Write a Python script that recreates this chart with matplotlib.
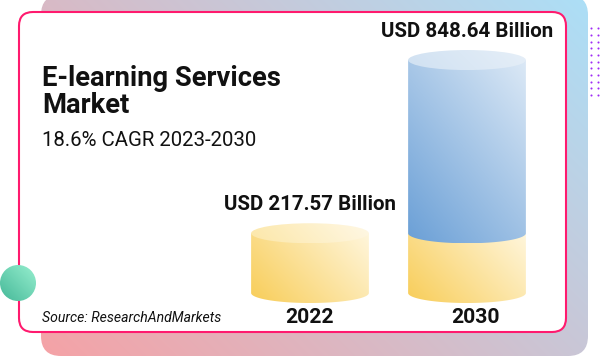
import numpy as np
import matplotlib.pyplot as plt
from matplotlib.patches import FancyBboxPatch, Ellipse, PathPatch, Circle
from matplotlib.path import Path
from matplotlib.colors import to_rgb

plt.rcParams['font.family'] = ['Roboto', 'DejaVu Sans']

# chart data
years = ['2022', '2030']
market_size = [217.57, 848.64]  # USD billion
value_labels = ['USD 217.57 Billion', 'USD 848.64 Billion']
title_lines = ['E-learning Services', 'Market']
subtitle = '18.6% CAGR 2023-2030'
source = 'Source: ResearchAndMarkets'


def gradient(ax, patch, extent, c0, c1, wx=0.5, n=200):
    """fill a patch with a linear gradient, c0 bottom-left -> c1 top-right"""
    u = np.linspace(0, 1, n)
    U, V = np.meshgrid(u, u)
    t = wx * U + (1 - wx) * V
    c0, c1 = np.array(to_rgb(c0)), np.array(to_rgb(c1))
    img = c0 + t[..., None] * (c1 - c0)
    im = ax.imshow(img, extent=extent, origin='lower', aspect='auto',
                   interpolation='bilinear', zorder=patch.get_zorder())
    im.set_clip_path(patch)
    return im


def body_path(xc, y0, y1, w, eh):
    th = np.linspace(np.pi, 2 * np.pi, 80)
    arc = np.column_stack([xc + w / 2 * np.cos(th), y0 + eh / 2 * np.sin(th)])
    verts = np.vstack([[xc - w / 2, y1], arc, [xc + w / 2, y1], [xc - w / 2, y1]])
    codes = [Path.MOVETO] + [Path.LINETO] * (len(verts) - 2) + [Path.CLOSEPOLY]
    return Path(verts, codes)


def cylinder_body(ax, xc, y0, y1, w, eh, c0, c1, z, wx=0.65):
    p = PathPatch(body_path(xc, y0, y1, w, eh), facecolor='none', edgecolor='none', zorder=z)
    ax.add_patch(p)
    gradient(ax, p, (xc - w / 2, xc + w / 2, y0 - eh / 2, y1), c0, c1, wx=wx)


def cylinder_top(ax, xc, y, w, eh, c0, c1, z):
    e = Ellipse((xc, y), w, eh, facecolor='none', edgecolor='none', zorder=z)
    ax.add_patch(e)
    gradient(ax, e, (xc - w / 2, xc + w / 2, y - eh / 2, y + eh / 2), c0, c1, wx=0.85)


fig = plt.figure(figsize=(6, 3.57), dpi=100)

# decoration layer in pixel coords
bg = fig.add_axes([0, 0, 1, 1])
bg.axis('off')

back = FancyBboxPatch((41, -5), 547, 361, boxstyle='round,pad=0,rounding_size=20',
                      facecolor='none', edgecolor='none', zorder=1)
bg.add_patch(back)
gradient(bg, back, (41, 588, 356, -5), '#f5a2a6', '#acdff7', wx=0.6)

card = FancyBboxPatch((19, 12), 547, 320, boxstyle='round,pad=0,rounding_size=14',
                      facecolor='white', edgecolor='#ff1a6e', linewidth=1.5, zorder=2)
bg.add_patch(card)

dot = Circle((18, 283), 18, facecolor='none', edgecolor='none', zorder=3)
bg.add_patch(dot)
gradient(bg, dot, (0, 36, 301, 265), '#45b898', '#97efcf', wx=0.5)

gx, gy = np.meshgrid([591, 597.7, 604.4], 28.3 + 6.67 * np.arange(11))
bg.scatter(gx.ravel(), gy.ravel(), s=2.2, color='#9d2cf5', linewidths=0, zorder=3)

bg.text(42, 86, title_lines[0], fontsize=19.7, fontweight='bold', color='#111111',
        va='baseline', zorder=4)
bg.text(42, 113, title_lines[1], fontsize=19.7, fontweight='bold', color='#111111',
        va='baseline', zorder=4)
bg.text(42, 146.5, subtitle, fontsize=14.7, color='#111111', va='baseline', zorder=4)
bg.text(42, 321.5, source, fontsize=10.1, style='italic', color='#111111',
        va='baseline', zorder=4)

bg.set_xlim(0, 600)
bg.set_ylim(357, 0)

# bar layer
ax = fig.add_axes([231.5 / 600, 0, 314 / 600, 1])
ax.axis('off')
w = 0.75
eh = 73
year_dx = [0, 9]

for i, (yr, v) in enumerate(zip(years, market_size)):
    if i == 0:
        cylinder_body(ax, i, 0, v, w, eh, '#f8cd58', '#fff6dc', 2)
        cylinder_top(ax, i, v, w, eh, '#fce7a8', '#fff8e6', 3)
    else:
        base = market_size[0]
        cylinder_body(ax, i, 0, base, w, eh, '#f8cd58', '#fff6dc', 2)
        cylinder_body(ax, i, base, v, w, eh, '#6a9fd6', '#dce9f6', 3, wx=0.45)
        cylinder_top(ax, i, v, w, eh, '#d0e1f2', '#e6eff8', 4)
    ax.annotate(value_labels[i], xy=(i, v), xytext=(0, 23), textcoords='offset pixels',
                ha='center', va='baseline', fontsize=14.8, fontweight='bold', color='#111111')
    ax.annotate(yr, xy=(i, 0), xytext=(year_dx[i], -30), textcoords='offset pixels',
                ha='center', va='baseline', fontsize=15.2, fontweight='bold', color='#111111')

ax.set_xlim(-0.5, 1.5)
ax.set_ylim(-233.2, 1067.4)

fig.savefig('out.png', dpi=100)
